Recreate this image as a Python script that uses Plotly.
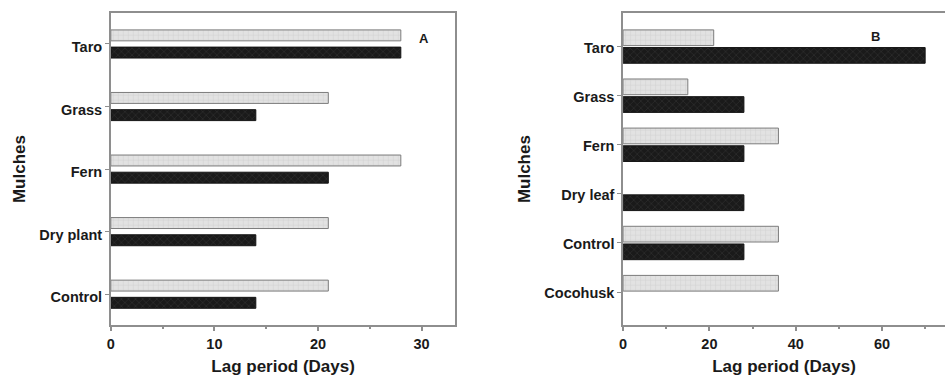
import plotly.graph_objects as go

# Panel A: mulch categories (bottom to top) and lag periods in days
mulches_a = ["Control", "Dry plant", "Fern", "Grass", "Taro"]
light_a = [21, 21, 28, 21, 28]
dark_a = [14, 14, 21, 14, 28]

# Panel B: mulch categories (bottom to top) and lag periods in days
mulches_b = ["Cocohusk", "Control", "Dry leaf", "Fern", "Grass", "Taro"]
light_b = [36, 36, None, 36, 15, 21]
dark_b = [None, 28, 28, 28, 28, 70]

x_ticks_a = [0, 10, 20, 30]
x_ticks_b = [0, 20, 40, 60]

FONT = "Liberation Sans, Arial, sans-serif"
AXIS_GRAY = "#8e8e8e"

light_marker = dict(
    color="#dedede",
    line=dict(color="#7c7c7c", width=1),
    pattern=dict(shape="+", size=5, solidity=0.25, fgcolor="#c6c6c6", bgcolor="#e2e2e2"),
)
dark_marker = dict(
    color="#1c1c1c",
    line=dict(color="#141414", width=1),
    pattern=dict(shape="x", size=5, solidity=0.3, fgcolor="#3a3a3a", bgcolor="#1a1a1a"),
)

fig = go.Figure()

# Panel A bars
fig.add_trace(go.Bar(y=mulches_a, x=light_a, orientation="h", offset=0.05, width=0.175,
                     marker=light_marker, xaxis="x", yaxis="y", showlegend=False, name="Set 1"))
fig.add_trace(go.Bar(y=mulches_a, x=dark_a, orientation="h", offset=-0.225, width=0.175,
                     marker=dark_marker, xaxis="x", yaxis="y", showlegend=False, name="Set 2"))

# Panel B bars
fig.add_trace(go.Bar(y=mulches_b, x=light_b, orientation="h", offset=0.02, width=0.32,
                     marker=light_marker, xaxis="x2", yaxis="y2", showlegend=False, name="Set 1"))
fig.add_trace(go.Bar(y=mulches_b, x=dark_b, orientation="h", offset=-0.34, width=0.32,
                     marker=dark_marker, xaxis="x2", yaxis="y2", showlegend=False, name="Set 2"))

tick_font = dict(family=FONT, size=14.5, color="#1a1a1a", weight="bold")
title_font = dict(family=FONT, size=17, color="#1a1a1a", weight="bold")

def x_axis(domain, rng, ticks, minor_step, anchor):
    return dict(
        domain=domain, range=rng, anchor=anchor,
        tickvals=ticks, ticks="outside", ticklen=4, tickwidth=1.5, tickcolor=AXIS_GRAY,
        minor=dict(dtick=minor_step, tick0=0, ticks="outside", ticklen=2, tickcolor=AXIS_GRAY),
        showline=True, linecolor=AXIS_GRAY, linewidth=1.5, mirror=True,
        showgrid=False, zeroline=False, tickfont=tick_font,
        title=dict(text="Lag period (Days)", font=title_font, standoff=9),
        fixedrange=True,
    )

def y_axis(domain, cats, rng, anchor, mirror, shift):
    return dict(
        domain=domain, anchor=anchor, type="category",
        categoryorder="array", categoryarray=cats, range=rng,
        ticks="outside", ticklen=4, tickwidth=1.2, tickcolor=AXIS_GRAY,
        ticklabelshift=shift,
        showline=True, linecolor=AXIS_GRAY, linewidth=1.5, mirror=mirror,
        showgrid=False, zeroline=False, tickfont=tick_font,
        title=dict(text="Mulches", font=title_font, standoff=9),
        fixedrange=True,
    )

y_dom = [0.1412, 0.9665]

fig.update_layout(
    width=945, height=379,
    margin=dict(l=0, r=0, t=0, b=0),
    paper_bgcolor="white", plot_bgcolor="white",
    barmode="overlay",
    xaxis=x_axis([0.1135, 0.4797], [0, 33.27], x_ticks_a, 5, "y"),
    yaxis=y_axis(y_dom, mulches_a, [-0.5, 4.5], "x", True, 3),
    xaxis2=x_axis([0.6579, 1.0], [0, 74.6], x_ticks_b, 10, "y2"),
    yaxis2=y_axis(y_dom, mulches_b, [-0.68, 5.69], "x2", False, 1),
    annotations=[
        dict(text="A", x=422, y=29, xref="paper", yref="paper", showarrow=False,
             font=dict(family=FONT, size=13, color="#1a1a1a", weight="bold")),
        dict(text="B", x=882, y=27, xref="paper", yref="paper", showarrow=False,
             font=dict(family=FONT, size=13, color="#1a1a1a", weight="bold")),
    ],
)

# Panel letters are placed in pixel terms; convert to paper fractions
for ann in fig.layout.annotations:
    ann.x = ann.x / 945
    ann.y = 1 - ann.y / 379

fig.write_html("out.html")
